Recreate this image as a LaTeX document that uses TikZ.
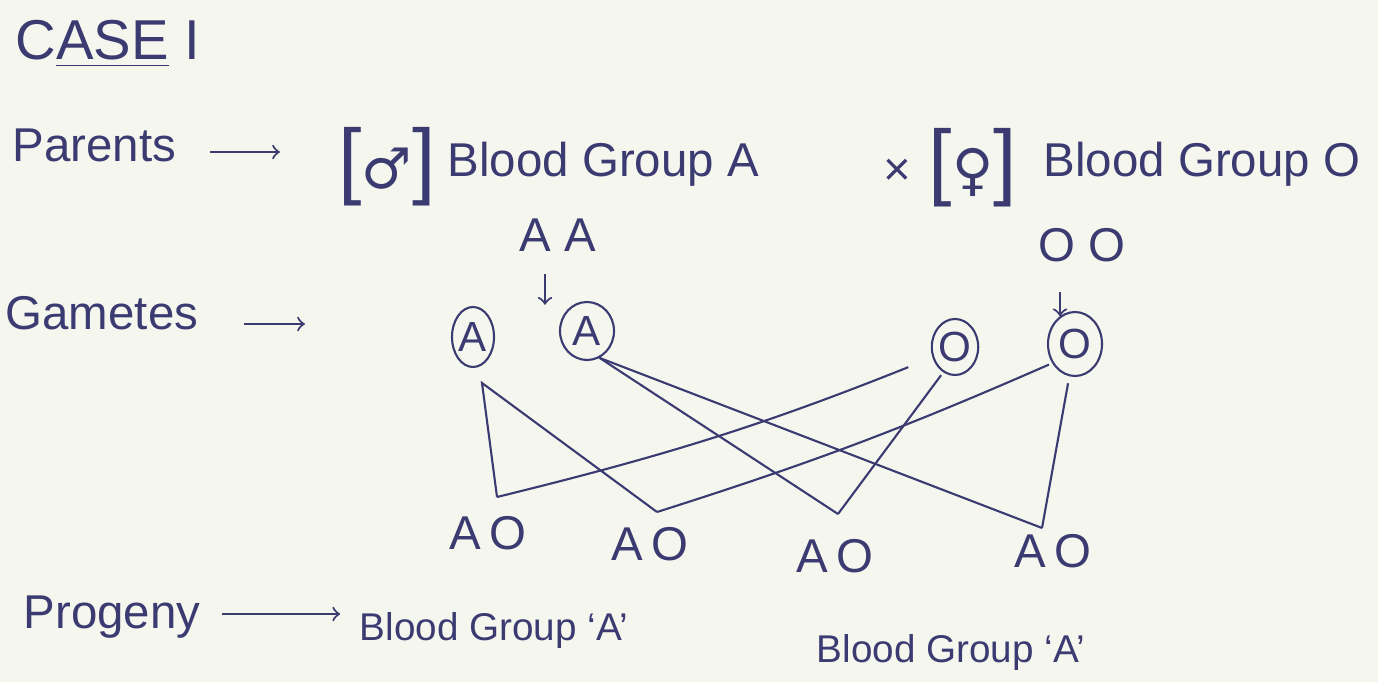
\documentclass[tikz,border=0pt]{standalone}
\usepackage{fontspec}
\setmainfont{Liberation Sans}
\newfontfamily\symfont{DejaVu Sans}
\usetikzlibrary{shapes.geometric}

\definecolor{ink}{HTML}{3B3B72}
\definecolor{paper}{HTML}{F5F7EF}

% bracketed sex sign
\newcommand{\sexsign}[1]{{\fontsize{24}{24}\selectfont[}{\symfont\fontsize{16}{16}\selectfont#1}{\fontsize{24}{24}\selectfont]}}

\begin{document}
\begin{tikzpicture}[
  every node/.style={font=\fontsize{13.5}{16}\selectfont,text=ink},
  rowtext/.style={anchor=base west,inner sep=0pt},
  sexbox/.style={inner sep=0pt},
  gamete/.style={ellipse,draw=ink,semithick,inner sep=0pt,font=\fontsize{12}{14}\selectfont},
  offspring/.style={inner sep=1pt},
  inkarrow/.style={->,ink,semithick},
  inkline/.style={ink,semithick},
]

% ---------- Paper ----------
\fill[paper] (0,0) rectangle (13.78,-6.82);
\useasboundingbox (0,0) rectangle (13.78,-6.82);

% ---------- Title ----------
\node[rowtext,font=\fontsize{16}{18}\selectfont] (title) at (0.15,-0.6) {C\underline{ASE} I};

% ---------- Parents ----------
\node[rowtext] (parents) at (0.12,-1.62) {Parents};
\draw[inkarrow] ([shift={(0.33,0.1)}]parents.base east) -- ++(0.7,0);

\node[sexbox] (male) at (3.87,-1.67) {\sexsign{♂}};
\node[rowtext] (groupA) at (4.47,-1.77) {Blood Group A};
\node (cross) at (8.97,-1.72) {×};
\node[sexbox] (female) at (9.73,-1.68) {\sexsign{♀}};
\node[rowtext] (groupO) at (10.43,-1.77) {Blood Group O};

% ---------- Genotypes ----------
\node (aa) at (5.58,-2.35) {A A};
\draw[inkarrow] ([shift={(-0.13,-0.1)}]aa.south) -- ++(0,-0.31);

\node (oo) at (10.82,-2.45) {O O};
\draw[inkarrow] ([shift={(-0.22,-0.18)}]oo.south) -- ++(0,-0.24);

% ---------- Gametes ----------
\node[rowtext] (gametes) at (0.05,-3.3) {Gametes};
\draw[inkarrow] ([shift={(0.45,0.06)}]gametes.base east) -- ++(0.61,0);

\node[gamete,minimum width=0.42cm,minimum height=0.6cm]  (a1) at (4.73,-3.37) {A};
\node[gamete,minimum width=0.54cm,minimum height=0.58cm] (a2) at (5.87,-3.31) {A};
\node[gamete,minimum width=0.44cm,minimum height=0.56cm] (o1) at (9.55,-3.47) {O};
\node[gamete,minimum width=0.54cm,minimum height=0.64cm] (o2) at (10.75,-3.44) {O};

% ---------- Offspring ----------
\node[offspring] (ao1) at (4.88,-5.33) {A\,O};
\node[offspring] (ao2) at (6.50,-5.44) {A\,O};
\node[offspring] (ao3) at (8.35,-5.56) {A\,O};
\node[offspring] (ao4) at (10.53,-5.51) {A\,O};

\coordinate (a1b) at (4.82,-3.83);
\coordinate (j1) at (4.97,-4.97);
\coordinate (j2) at (6.57,-5.12);
\coordinate (j3) at (8.38,-5.14);
\coordinate (j4) at (10.42,-5.28);

% crosses
\draw[inkline] (j1) -- (a1b) -- (j2);
\draw[inkline,shorten >=0.26cm] (j1) to[bend right=4] (o1.205);
\draw[inkline,shorten >=1pt] (j2) to[bend right=3] (o2.-140);
\draw[inkline] (a2.-65) -- (j3);
\draw[inkline] (a2.-65) -- (j4);
\draw[inkline,shorten <=1pt] (o1.-115) -- (j3);
\draw[inkline,shorten <=2pt] (o2.-100) -- (j4);

% ---------- Progeny ----------
\node[rowtext] (progeny) at (0.23,-6.28) {Progeny};
\draw[inkarrow] ([shift={(0.21,0.14)}]progeny.base east) -- ++(1.18,0);
\node[rowtext,font=\fontsize{11}{13}\selectfont] (bgA1) at (3.59,-6.4) {Blood Group `A'};
\node[rowtext,font=\fontsize{11}{13}\selectfont] (bgA2) at (8.16,-6.62) {Blood Group `A'};

\end{tikzpicture}
\end{document}
